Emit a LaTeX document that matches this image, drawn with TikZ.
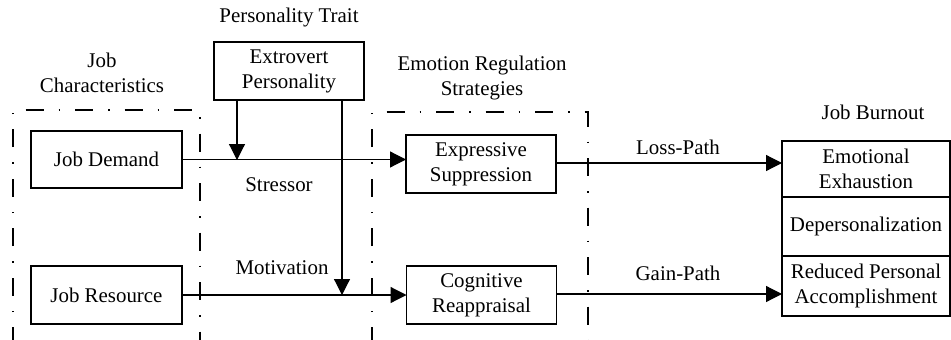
\documentclass[tikz,border=0pt]{standalone}
\usepackage{fontspec}
\setmainfont{Liberation Serif}
\usepackage{tikz}
\usetikzlibrary{positioning, arrows.meta, calc}

\tikzset{
  blk/.style={draw, line width=1.3pt, align=center, inner sep=0pt, outer sep=0pt},
  grp/.style={line width=1.2pt, dash pattern=on 18pt off 15pt on 1.5pt off 15pt},
  lbl/.style={align=center, inner sep=0pt},
  arr/.style={line width=1.2pt, -{Triangle[length=16pt,width=16pt]}}
}

\begin{document}
\begin{tikzpicture}[x=1pt,y=-1pt,font=\fontsize{20.9}{25}\selectfont]
        \clip (0,0) rectangle (951,340);
        % groups
        \draw[grp] (13,345) -- (13,110) -- (200,110) -- (200,345);
        \draw[grp] (372,345) -- (372,112) -- (588,112) -- (588,345);
        \node[lbl] (g_jc) at (102,73) {Job\\Characteristics};
        \node[lbl] (g_pt) at (289,18) {Personality Trait};
        \node[lbl] (g_er) at (482,78) {Emotion Regulation\\Strategies};
        \node[lbl] (g_jb) at (873,112) {Job Burnout};
        % boxes
        \node[blk,minimum width=151pt,minimum height=57pt] (jd)  at (106.5,159.5) {Job Demand};
        \node[blk,minimum width=151pt,minimum height=58pt] (jr)  at (106.5,295) {Job Resource};
        \node[blk,minimum width=150pt,minimum height=58pt] (ext) at (289,71) {Extrovert\\Personality};
        \node[blk,minimum width=150pt,minimum height=58pt] (es)  at (481,164) {Expressive\\Suppression};
        \node[blk,minimum width=150pt,minimum height=58pt] (cr)  at (481.5,295) {Cognitive\\Reappraisal};
        \node[blk,minimum width=168pt,minimum height=56pt] (ee)  at (866,169) {Emotional\\Exhaustion};
        \node[blk,minimum width=168pt,minimum height=59pt,below=0pt of ee] (dp) {Depersonalization};
        \node[blk,minimum width=168pt,minimum height=60pt,below=0pt of dp] (rpa) {Reduced Personal\\Accomplishment};
        % paths
        \coordinate (m_s) at (237,160);
        \coordinate (m_m) at (342,295);
        \draw[line width=1.2pt] (jd.east) -- (jd.east -| es.west) coordinate (es_in);
        \draw[arr] (jd.east -| m_s) -- (es_in);
        \draw[arr] (ext.south -| m_s) -- (m_s);
        \draw[line width=1.2pt] (jr.east) -- (m_m);
        \draw[arr] (m_m) -- (cr.west);
        \draw[arr] (ext.south -| m_m) -- (m_m);
        \draw[arr] ($(es.east)+(0,-1)$) coordinate (l_o) -- (l_o -| ee.west);
        \draw[arr] ($(cr.east)+(0,-1)$) coordinate (g_o) -- (g_o -| rpa.west);
        \node[lbl] (t_s) at (279,185) {Stressor};
        \node[lbl] (t_m) at (282,268) {Motivation};
        \node[lbl] (t_l) at (678,147) {Loss-Path};
        \node[lbl] (t_g) at (678,273) {Gain-Path};
\end{tikzpicture}
\end{document}
